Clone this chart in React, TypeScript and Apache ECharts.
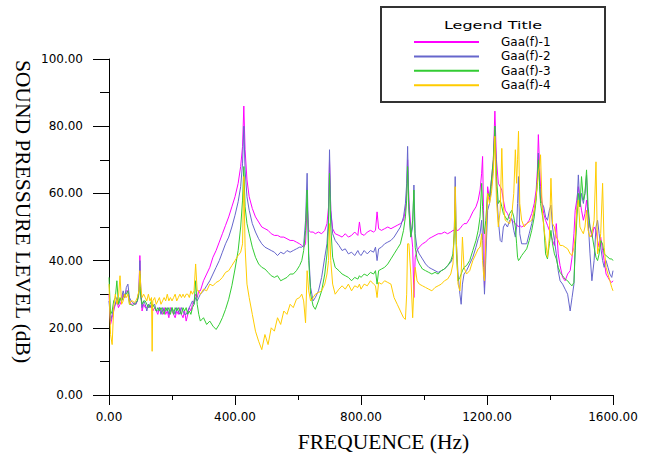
import React, { useEffect, useRef } from "react";
import * as echarts from "echarts";

// Frequencies (Hz)
const freq = [
  0, 5, 10, 15, 20, 25, 30, 35, 40, 45,
  50, 55, 60, 65, 70, 75, 80, 85, 90, 95,
  98, 101, 105, 110, 115, 120, 125, 130, 135, 137,
  139, 145, 150, 155, 160, 165, 170, 175, 180, 185,
  190, 195, 200, 205, 210, 215, 220, 225, 230, 235,
  240, 245, 250, 255, 260, 265, 270, 275, 280, 285,
  290, 300, 310, 320, 330, 340, 350, 360, 370, 380,
  390, 400, 410, 418, 424, 428, 432, 438, 445, 455,
  465, 475, 485, 495, 505, 515, 525, 535, 545, 555,
  565, 575, 585, 595, 605, 612, 618, 624, 629, 634,
  640, 648, 655, 665, 675, 685, 692, 697, 700, 704,
  710, 718, 730, 740, 750, 760, 770, 780, 790, 795,
  800, 810, 820, 830, 840, 846, 851, 856, 865, 875,
  885, 895, 905, 915, 925, 935, 941, 945, 948, 952,
  958, 964, 968, 972, 978, 985, 995, 1005, 1015, 1025,
  1035, 1045, 1055, 1065, 1075, 1085, 1092, 1096, 1099, 1103,
  1108, 1114, 1118, 1122, 1127, 1135, 1145, 1155, 1165, 1172,
  1178, 1183, 1186, 1189, 1192, 1196, 1202, 1208, 1214, 1220,
  1225, 1230, 1236, 1242, 1247, 1252, 1258, 1265, 1272, 1279,
  1285, 1290, 1294, 1297, 1300, 1304, 1310, 1318, 1326, 1334,
  1342, 1350, 1356, 1360, 1363, 1367, 1370, 1375, 1380, 1386,
  1392, 1398, 1403, 1408, 1414, 1420, 1426, 1432, 1440, 1448,
  1456, 1464, 1470, 1476, 1480, 1485, 1490, 1495, 1500, 1506,
  1511, 1516, 1521, 1527, 1533, 1540, 1546, 1551, 1556, 1561,
  1567, 1572, 1578, 1584, 1590, 1596, 1600,
];

// Gaa(f)-1 (magenta)
const gaa1 = [
  30, 21, 23, 25, 27, 28, 26, 27, 28, 30,
  29, 31, 31, 28, 27, 27, 27.5, 27, 28, 31,
  41.5, 30, 25, 27, 26, 26, 27, 26, 27, 26,
  25, 26, 25, 24, 26, 25, 24, 26, 24, 25,
  23, 26, 25, 24, 23, 25, 24, 26, 24, 23,
  25, 22, 24, 26, 25, 27, 28, 30, 29, 31,
  31, 34, 36, 38, 41, 43, 45.5, 48, 50.5, 53,
  56, 59, 63, 68, 74, 86, 73, 64, 59, 55.5,
  53, 51.5, 50, 49.5, 49, 48, 47.5, 47.5, 47, 47,
  46.5, 46, 46, 45.5, 45, 44.5, 44, 45, 57, 49,
  48.5, 48.5, 48, 48.5, 48, 49, 51, 56, 70, 55,
  49.5, 48, 47.5, 47, 48, 47, 47.5, 48.5, 47.5, 51.5,
  48, 47.5, 48.5, 49, 48.5, 49, 54.5, 49.5, 49, 49.5,
  50, 49.5, 50, 50.5, 51, 52, 55, 60, 70, 58,
  50, 44, 29, 41, 43, 44, 45, 45.5, 46.5, 47,
  47.5, 48, 48, 48.5, 48, 48.5, 49, 49, 50, 49,
  49, 49.5, 50, 50.5, 51, 51, 52.5, 54.5, 56, 58,
  61, 66, 71, 55, 32, 45, 62, 58, 64, 70,
  84.5, 70, 63, 62, 61, 58, 55, 54, 52.5, 52,
  51.5, 51, 50.5, 50.5, 50, 50.5, 50, 50.5, 51, 52,
  54, 57, 61, 67, 77.5, 68, 62, 57, 54, 52,
  50.5, 49, 47.5, 46, 44.5, 51, 42, 38.5, 35, 34,
  36, 37, 41, 48, 55, 58, 62, 58, 55, 52,
  54, 58, 54, 50, 47, 50, 49, 46, 44, 47,
  43, 40, 36, 35, 34, 33.5, 34,
];

// Gaa(f)-2 (blue)
const gaa2 = [
  28, 22, 24, 26, 27, 29, 27, 28, 29, 31,
  29, 32, 33, 29, 28, 27.5, 27, 27, 28, 31,
  40, 31, 26, 28, 27, 25, 27, 26, 27, 26,
  26, 27, 25, 25, 26, 24, 26, 25, 25, 26,
  24, 25, 26, 25, 24, 26, 25, 24, 26, 25,
  24, 24, 25, 26, 27, 28, 27, 29, 28, 29,
  30, 31, 32.5, 34, 36, 38, 40, 42.5, 45, 47,
  50, 53.5, 57.5, 62, 69, 80, 67, 59, 55, 51,
  48.5, 46.5, 45, 44, 43.5, 43, 42.5, 41.5, 42.5, 42,
  43, 42.5, 43, 43.5, 44, 44, 44.5, 52, 66, 42,
  32, 28, 29, 31, 35, 41, 45, 53, 73, 55,
  48, 46, 44.5, 43, 43.5, 42, 42.5, 41.5, 43, 42,
  41.5, 43, 42, 43, 42.5, 44, 40, 43.5, 44, 45,
  45.5, 46, 47, 48.5, 50, 53, 57, 63, 74, 56,
  47, 50, 62.5, 48, 43.5, 42, 40.5, 39, 38, 37.5,
  37, 36.5, 37, 37.5, 38.5, 39.5, 41, 48, 65, 45,
  36, 30, 27, 33, 36, 37, 39, 41, 44, 46.5,
  48, 52, 46, 38, 30, 40, 55, 57, 62, 68,
  80, 62, 52, 46, 45.5, 50, 51, 50, 52, 52.5,
  49, 47, 50, 57, 65, 48, 45, 45, 45, 48,
  51, 55, 59, 64, 72, 63, 58, 57, 56, 53,
  52, 55, 56.5, 50, 46, 42, 37, 34, 33, 31.5,
  30, 25, 29, 33, 45, 55, 65.5, 56, 60, 57,
  60, 65.5, 52, 42, 34, 40, 50, 52, 48, 44,
  40, 38, 40, 38, 36, 35, 37,
];

// Gaa(f)-3 (green)
const gaa3 = [
  35, 24, 25, 28, 29, 34, 27, 29, 28, 29,
  30, 30, 31, 27, 27, 26.5, 27, 27.5, 28, 30,
  36, 29, 27, 28, 28, 27, 26, 27, 28, 26,
  27, 26, 25, 26, 25, 26, 25, 24, 26, 25,
  26, 24, 26, 24, 26, 25, 26, 25, 24, 26,
  25, 26, 24, 25, 24, 26, 27, 34, 27, 24,
  22, 23, 21, 22, 20.5, 19.5, 21, 23, 25.5, 28.5,
  32.5, 37.5, 43, 50, 58, 68, 56, 51, 48, 44,
  41, 39, 38, 37.5, 36.5, 35.5, 35, 35.5, 34, 34.5,
  35, 36, 36, 37, 38.5, 40, 43, 49, 61, 40,
  30, 26.5, 25.5, 28, 31, 36, 42, 50, 66, 50,
  41, 38, 37, 36, 35.5, 35, 34, 35, 34.5, 35.5,
  35, 36, 35.5, 36.5, 36, 37, 33, 37, 37.5, 38,
  39, 40.5, 42, 43.5, 45, 49, 53, 58, 68, 55,
  47, 52, 61, 44, 40.5, 39, 37.5, 37, 36.5, 36,
  36.5, 36, 37, 37.5, 38.5, 40, 42, 48, 55, 42,
  34, 35, 36, 37, 38, 38.5, 40, 43, 46, 49,
  53, 63, 56, 50, 48, 52, 60, 59, 64, 70,
  80, 65, 57, 58, 56, 54, 53, 52, 54, 55,
  53, 50, 45, 41, 40, 40.5, 41.5, 42.5, 43.5, 46,
  49, 53, 58, 64, 70, 62, 57, 54, 51, 42,
  40.5, 45, 49, 45, 42, 40.5, 38, 36.5, 35.5, 34.5,
  34, 33, 32.5, 33.5, 43, 52, 60, 56, 65, 58,
  60, 67, 56, 50, 48, 44, 41, 40, 42, 46,
  45, 42, 41.5, 41, 40.5, 40.5, 40,
];

// Gaa(f)-4 (yellow)
const gaa4 = [
  33, 18, 15, 26, 30, 27, 29, 35.5, 27, 28,
  30, 29, 30, 27, 28, 28, 27.5, 28, 29, 31,
  37, 32, 29, 30, 29, 28, 30, 28, 29, 13,
  28, 29, 27, 28, 29, 27, 28, 29, 28, 30,
  28, 29, 28, 29, 30, 28, 29, 30, 29, 30,
  29, 30, 30, 29, 31, 30, 31, 39, 31, 31,
  30, 31.5, 31, 33, 32.5, 33.5, 34, 35, 36.5, 37,
  38.5, 40, 41.5, 42.5, 45, 65, 44, 33, 29, 24,
  19, 16, 13.5, 18, 15, 20, 19, 23, 21, 25,
  24, 27, 26, 28.5, 29, 30, 28, 21.5, 37, 31,
  28, 29, 30, 30.5, 31, 33, 36, 40, 51, 40,
  33, 30, 31.5, 32.5, 31.5, 33, 31, 32.5, 32, 33,
  31.5, 33, 32.5, 34, 33, 32.5, 29, 33.5, 33, 34,
  33.5, 33, 29, 27, 25, 23, 22.5, 30, 45, 45,
  36, 23, 32, 38, 34, 33, 32.5, 32, 31.5, 31,
  32, 32.5, 33, 34, 34.5, 36, 39, 48, 62, 45,
  33, 31, 36, 47, 38, 36, 37, 40, 42, 43.5,
  44, 48, 40, 36, 34, 45, 60, 57, 60, 66,
  77, 58, 50, 55, 73.4, 56, 52, 51.5, 51, 54,
  60, 73, 63, 70, 78.5, 57, 52, 50, 51, 51.5,
  52, 55, 59, 63, 66, 68, 71.5, 56, 50, 46,
  41, 47, 64.5, 51, 50, 47, 46, 44.5, 44.5, 44,
  43.5, 42, 41.5, 44, 47, 55, 58, 50, 49, 48,
  50, 55, 49, 47, 48, 52, 69.4, 42, 44, 48,
  63, 44, 38, 36, 34, 32, 31,
];

const seriesNames = ["Gaa(f)-1", "Gaa(f)-2", "Gaa(f)-3", "Gaa(f)-4"];
const seriesValues = [gaa1, gaa2, gaa3, gaa4];
const seriesColors = ["#FF00FF", "#6666CC", "#33CC33", "#FFCC00"];

const legendTitle = "Legend Title";
const xTitle = "FREQUENCE (Hz)";
const yTitle = "SOUND PRESSURE LEVEL (dB)";

const labelFont = "DejaVu Sans";
const titleFont = "Liberation Serif";

export default function App() {
  const ref = useRef<HTMLDivElement>(null);

  useEffect(() => {
    if (!ref.current) return;
    const chart = echarts.init(ref.current, null, { renderer: "svg" });

    const series = seriesNames.map((name, i) => ({
      name,
      type: "line",
      data: freq.map((f, j) => [f, seriesValues[i][j]]),
      showSymbol: false,
      symbol: "none",
      color: seriesColors[i],
      lineStyle: { color: seriesColors[i], width: 1 },
      z: 2 + i,
    }));

    chart.setOption({
      animation: false,
      backgroundColor: "#ffffff",
      grid: {
        left: 109,
        right: 38,
        top: 59,
        bottom: 61,
        containLabel: false,
        outerBoundsMode: "none",
      },
      xAxis: {
        type: "value",
        min: 0,
        max: 1600,
        interval: 400,
        axisLine: { show: true, onZero: false, lineStyle: { color: "#000", width: 1 } },
        axisTick: { show: true, length: 10, lineStyle: { color: "#000" } },
        minorTick: { show: true, splitNumber: 2, length: 5, lineStyle: { color: "#000" } },
        splitLine: { show: false },
        axisLabel: {
          margin: 16,
          color: "#000",
          fontFamily: labelFont,
          fontSize: 12,
          formatter: (v: number) => v.toFixed(2),
        },
      },
      yAxis: {
        type: "value",
        min: 0,
        max: 100,
        interval: 20,
        axisLine: { show: true, onZero: false, lineStyle: { color: "#000", width: 1 } },
        axisTick: { show: true, length: 16, lineStyle: { color: "#000" } },
        minorTick: { show: true, splitNumber: 2, length: 9, lineStyle: { color: "#000" } },
        splitLine: { show: false },
        axisLabel: {
          margin: 26,
          color: "#000",
          fontFamily: labelFont,
          fontSize: 12,
          formatter: (v: number) => v.toFixed(2),
        },
      },
      legend: {
        orient: "vertical",
        left: 414,
        top: 35,
        padding: 0,
        itemGap: 0.4,
        itemWidth: 82,
        itemHeight: 2,
        icon: "path://M0,0H65V2H0Z M82,0L82,2",
        itemStyle: { borderWidth: 0 },
        textStyle: {
          color: "#000",
          fontFamily: labelFont,
          fontSize: 12,
          lineHeight: 14,
        },
        data: seriesNames,
        z: 10,
      },
      graphic: [
        {
          type: "rect",
          z: 0,
          shape: { x: 381, y: 7, width: 224, height: 95 },
          style: { fill: "#ffffff", stroke: "#333333", lineWidth: 2 },
        },
        {
          type: "text",
          z: 1,
          x: 493,
          y: 25.5,
          scaleX: 1.6,
          style: {
            text: legendTitle,
            fontFamily: labelFont,
            fontSize: 10,
            fill: "#000",
            align: "center",
            verticalAlign: "middle",
            textAlign: "center",
            textVerticalAlign: "middle",
          },
        },
        {
          type: "text",
          x: 383.5,
          y: 441.5,
          style: {
            text: xTitle,
            fontFamily: titleFont,
            fontSize: 21.5,
            fill: "#000",
            align: "center",
            verticalAlign: "middle",
            textAlign: "center",
            textVerticalAlign: "middle",
          },
        },
        {
          type: "text",
          x: 22.5,
          y: 211.5,
          rotation: -Math.PI / 2,
          style: {
            text: yTitle,
            fontFamily: titleFont,
            fontSize: 21.5,
            fill: "#000",
            align: "center",
            verticalAlign: "middle",
            textAlign: "center",
            textVerticalAlign: "middle",
          },
        },
      ],
      series,
    });

    return () => chart.dispose();
  }, []);

  return (
    <div
      ref={ref}
      style={{ position: "fixed", left: 0, top: 0, width: 651, height: 456, background: "#fff" }}
    />
  );
}
